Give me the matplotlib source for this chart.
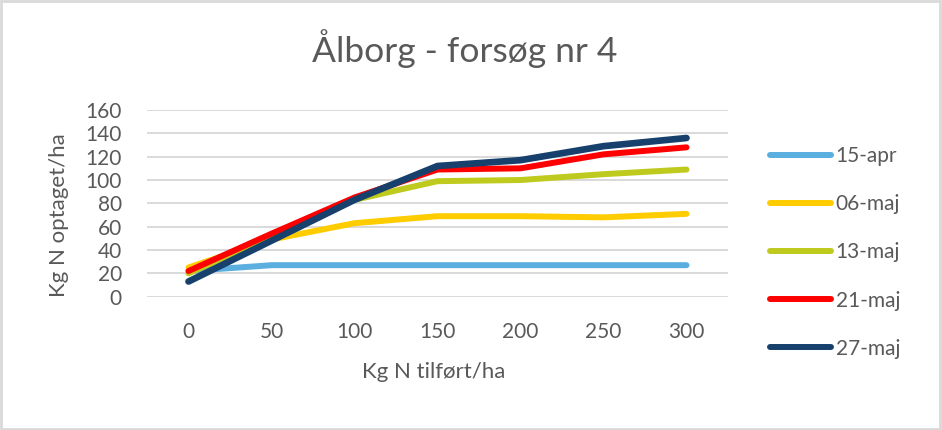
import matplotlib.pyplot as plt
from matplotlib.patches import Rectangle

# data
kg_n = ['0', '50', '100', '150', '200', '250', '300']
apr15 = [22, 27, 27, 27, 27, 27, 27]
maj06 = [25, 49, 63, 69, 69, 68, 71]
maj13 = [20, 51, 83, 99, 100, 105, 109]
maj21 = [22, 54, 85, 109, 110, 122, 128]
maj27 = [13, 48, 83, 112, 117, 129, 136]
serier = ['15-apr', '06-maj', '13-maj', '21-maj', '27-maj']
farver = ['#5baee0', '#ffcc00', '#bfca1e', '#ff0000', '#17406d']
y_ticks = [0, 20, 40, 60, 80, 100, 120, 140, 160]

plt.rcParams['font.family'] = ['Lato', 'DejaVu Sans']
tekst = '#595959'

fig = plt.figure(figsize=(9.42, 4.3), dpi=100)
ax = fig.add_axes([147/942, 1 - 296.7/430, 581/942, 186.7/430])

x = range(len(kg_n))
for navn, vals, c in zip(serier, [apr15, maj06, maj13, maj21, maj27], farver):
    lw = 4.8 if navn == '27-maj' else 4.3
    ax.plot(x, vals, color=c, lw=lw, label=navn,
            solid_capstyle='round', solid_joinstyle='round')

ax.set_xlim(-0.5, len(kg_n) - 0.5)
ax.set_ylim(0, 160)
ax.set_yticks(y_ticks)
ax.set_xticks(list(x))
ax.set_xticklabels(kg_n)
ax.grid(axis='y', color='#d9d9d9', lw=1.4)
ax.set_axisbelow(True)
for s in ax.spines.values():
    s.set_visible(False)
ax.tick_params(axis='both', length=0, labelsize=15, labelcolor=tekst)
ax.tick_params(axis='x', pad=18)
ax.tick_params(axis='y', pad=18)

fig.text(465/942, 1 - 61.7/430, 'Ålborg - forsøg nr 4', ha='center',
         va='baseline', fontsize=25.5, color=tekst)
fig.text(434/942, 1 - 378/430, 'Kg N tilført/ha', ha='center',
         va='baseline', fontsize=16, color=tekst)
fig.text(59/942, 1 - 215/430, 'Kg N optaget/ha', ha='center',
         va='center', rotation=90, fontsize=16, color=tekst)

leg = fig.legend(loc='center left', bbox_to_anchor=(770/942, 1 - 252.5/430),
                 frameon=False, fontsize=15, handlelength=2.95,
                 handletextpad=0.2, labelspacing=1.35, borderpad=0,
                 borderaxespad=0)
for t in leg.get_texts():
    t.set_color(tekst)
for h in leg.get_lines():
    h.set_linewidth(4.3)

fig.patches.append(Rectangle((0.0015, 0.003), 0.996, 0.994, transform=fig.transFigure,
                             fill=False, edgecolor='#d9d9d9', lw=2))

fig.savefig('out.png', dpi=100)
